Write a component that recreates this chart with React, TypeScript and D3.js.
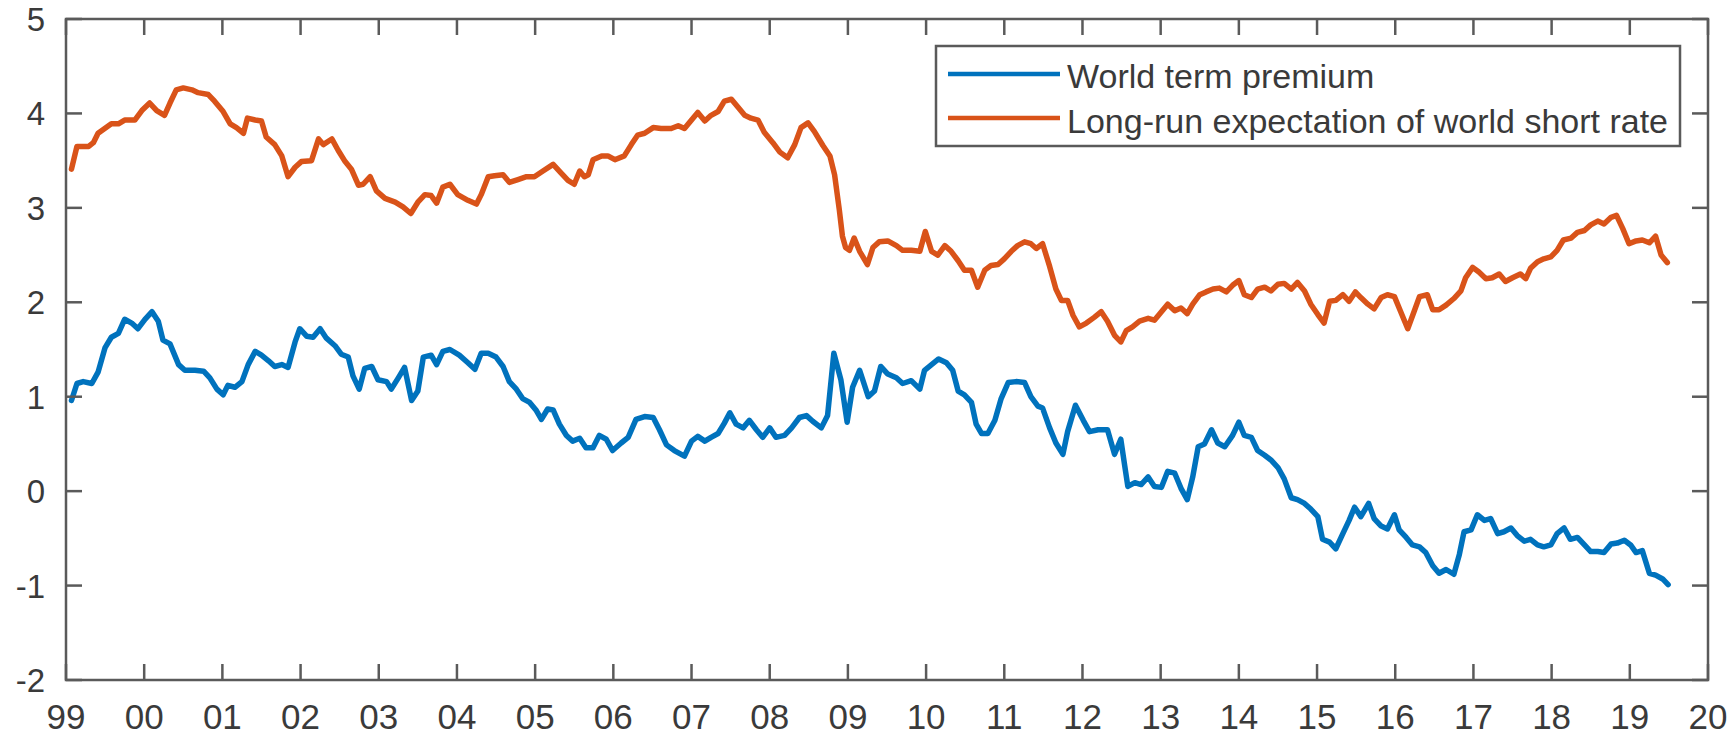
import React from "react";
import * as d3 from "d3";

const width = 1733;
const height = 738;
const margin = { top: 19, right: 25, bottom: 58, left: 66 };

const yearTicks = d3.range(1999, 2021);
const valueTicks = d3.range(-2, 6);
const seriesNames = ["World term premium", "Long-run expectation of world short rate"];
const seriesColors = ["#0072BD", "#D95319"];

// [decimal year, percent]
const termPremium: [number, number][] = [
  [1999.07, 0.96], [1999.14, 1.14], [1999.22, 1.16], [1999.33, 1.14], [1999.41, 1.26], [1999.5, 1.52],
  [1999.58, 1.63], [1999.67, 1.67], [1999.75, 1.82], [1999.84, 1.78], [1999.92, 1.72], [2000.01, 1.82],
  [2000.1, 1.9], [2000.18, 1.8], [2000.24, 1.6], [2000.33, 1.56], [2000.44, 1.34], [2000.52, 1.28],
  [2000.65, 1.28], [2000.76, 1.27], [2000.84, 1.2], [2000.93, 1.08], [2001.01, 1.02], [2001.07, 1.12],
  [2001.16, 1.1], [2001.25, 1.16], [2001.33, 1.34], [2001.42, 1.48], [2001.5, 1.44], [2001.59, 1.38],
  [2001.67, 1.32], [2001.76, 1.34], [2001.84, 1.31], [2001.93, 1.58], [2001.99, 1.72], [2002.08, 1.64],
  [2002.16, 1.63], [2002.25, 1.72], [2002.33, 1.62], [2002.44, 1.54], [2002.52, 1.45], [2002.61, 1.42],
  [2002.67, 1.22], [2002.75, 1.08], [2002.82, 1.3], [2002.91, 1.32], [2002.99, 1.18], [2003.1, 1.16],
  [2003.16, 1.08], [2003.25, 1.2], [2003.33, 1.31], [2003.42, 0.96], [2003.5, 1.06], [2003.57, 1.42],
  [2003.67, 1.44], [2003.74, 1.34], [2003.82, 1.48], [2003.91, 1.5], [2004.03, 1.44], [2004.14, 1.36],
  [2004.23, 1.29], [2004.31, 1.46], [2004.4, 1.46], [2004.5, 1.42], [2004.59, 1.32], [2004.67, 1.16],
  [2004.76, 1.08], [2004.84, 0.98], [2004.93, 0.94], [2005.01, 0.86], [2005.08, 0.76], [2005.16, 0.87],
  [2005.23, 0.86], [2005.31, 0.71], [2005.4, 0.59], [2005.48, 0.53], [2005.57, 0.56], [2005.65, 0.46],
  [2005.74, 0.46], [2005.82, 0.59], [2005.91, 0.55], [2005.99, 0.43], [2006.1, 0.51], [2006.19, 0.57],
  [2006.29, 0.76], [2006.4, 0.79], [2006.51, 0.78], [2006.59, 0.65], [2006.68, 0.49], [2006.78, 0.43],
  [2006.91, 0.37], [2007.0, 0.53], [2007.08, 0.58], [2007.17, 0.53], [2007.25, 0.57], [2007.34, 0.61],
  [2007.42, 0.72], [2007.49, 0.83], [2007.57, 0.71], [2007.66, 0.67], [2007.74, 0.75], [2007.83, 0.65],
  [2007.91, 0.57], [2008.0, 0.67], [2008.08, 0.57], [2008.19, 0.59], [2008.28, 0.67], [2008.38, 0.78],
  [2008.47, 0.8], [2008.55, 0.74], [2008.66, 0.67], [2008.74, 0.8], [2008.82, 1.46], [2008.91, 1.18],
  [2008.99, 0.73], [2009.06, 1.1], [2009.15, 1.28], [2009.26, 1.0], [2009.34, 1.06], [2009.42, 1.32],
  [2009.51, 1.24], [2009.62, 1.2], [2009.7, 1.14], [2009.81, 1.17], [2009.92, 1.08], [2009.98, 1.28],
  [2010.07, 1.34], [2010.16, 1.4], [2010.26, 1.36], [2010.34, 1.28], [2010.41, 1.06], [2010.49, 1.02],
  [2010.58, 0.94], [2010.64, 0.71], [2010.71, 0.61], [2010.79, 0.61], [2010.88, 0.75], [2010.96, 0.98],
  [2011.05, 1.15], [2011.15, 1.16], [2011.26, 1.15], [2011.34, 1.0], [2011.43, 0.9], [2011.49, 0.88],
  [2011.58, 0.67], [2011.66, 0.51], [2011.75, 0.39], [2011.81, 0.63], [2011.91, 0.91], [2012.01, 0.75],
  [2012.09, 0.63], [2012.2, 0.65], [2012.32, 0.65], [2012.41, 0.39], [2012.49, 0.55], [2012.54, 0.27],
  [2012.58, 0.05], [2012.67, 0.09], [2012.75, 0.07], [2012.84, 0.15], [2012.92, 0.05], [2013.01, 0.04],
  [2013.09, 0.21], [2013.18, 0.19], [2013.26, 0.03], [2013.34, -0.09], [2013.41, 0.15], [2013.48, 0.47],
  [2013.56, 0.5], [2013.65, 0.65], [2013.73, 0.51], [2013.82, 0.47], [2013.92, 0.59], [2014.0, 0.73],
  [2014.07, 0.59], [2014.16, 0.57], [2014.24, 0.43], [2014.33, 0.38], [2014.41, 0.33], [2014.5, 0.25],
  [2014.58, 0.13], [2014.67, -0.07], [2014.75, -0.09], [2014.84, -0.13], [2014.92, -0.19], [2015.01, -0.27],
  [2015.07, -0.51], [2015.16, -0.54], [2015.24, -0.61], [2015.33, -0.45], [2015.41, -0.31], [2015.48, -0.17],
  [2015.56, -0.27], [2015.66, -0.13], [2015.73, -0.29], [2015.82, -0.37], [2015.9, -0.4], [2015.99, -0.25],
  [2016.05, -0.41], [2016.14, -0.49], [2016.22, -0.57], [2016.31, -0.59], [2016.39, -0.65], [2016.48, -0.79],
  [2016.56, -0.87], [2016.65, -0.83], [2016.75, -0.88], [2016.82, -0.67], [2016.88, -0.43], [2016.97, -0.41],
  [2017.05, -0.25], [2017.14, -0.31], [2017.22, -0.29], [2017.31, -0.45], [2017.39, -0.43], [2017.48, -0.39],
  [2017.56, -0.47], [2017.65, -0.53], [2017.73, -0.51], [2017.82, -0.57], [2017.9, -0.59], [2017.99, -0.57],
  [2018.07, -0.45], [2018.16, -0.39], [2018.24, -0.51], [2018.33, -0.49], [2018.42, -0.57], [2018.5, -0.64],
  [2018.59, -0.64], [2018.67, -0.65], [2018.76, -0.56], [2018.84, -0.55], [2018.93, -0.52], [2019.01, -0.57],
  [2019.08, -0.65], [2019.16, -0.63], [2019.25, -0.87], [2019.33, -0.89], [2019.42, -0.93], [2019.49, -0.99],
];

const shortRate: [number, number][] = [
  [1999.07, 3.41], [1999.14, 3.65], [1999.29, 3.65], [1999.35, 3.69], [1999.41, 3.79], [1999.58, 3.89],
  [1999.67, 3.89], [1999.75, 3.93], [1999.88, 3.93], [1999.97, 4.03], [2000.07, 4.11], [2000.16, 4.03],
  [2000.26, 3.98], [2000.33, 4.11], [2000.41, 4.25], [2000.5, 4.27], [2000.61, 4.25], [2000.69, 4.22],
  [2000.82, 4.2], [2000.9, 4.13], [2001.01, 4.02], [2001.1, 3.89], [2001.18, 3.85], [2001.27, 3.79],
  [2001.32, 3.95], [2001.42, 3.93], [2001.5, 3.92], [2001.56, 3.75], [2001.67, 3.67], [2001.76, 3.55],
  [2001.84, 3.33], [2001.93, 3.43], [2002.01, 3.49], [2002.14, 3.5], [2002.23, 3.73], [2002.29, 3.67],
  [2002.4, 3.73], [2002.48, 3.61], [2002.57, 3.49], [2002.65, 3.41], [2002.74, 3.24], [2002.8, 3.25],
  [2002.89, 3.33], [2002.97, 3.18], [2003.08, 3.1], [2003.21, 3.06], [2003.31, 3.01], [2003.41, 2.94],
  [2003.5, 3.06], [2003.59, 3.14], [2003.67, 3.13], [2003.74, 3.05], [2003.82, 3.22], [2003.91, 3.25],
  [2004.01, 3.14], [2004.14, 3.08], [2004.25, 3.04], [2004.31, 3.14], [2004.4, 3.33], [2004.48, 3.34],
  [2004.59, 3.35], [2004.67, 3.27], [2004.78, 3.3], [2004.89, 3.33], [2004.99, 3.33], [2005.1, 3.39],
  [2005.23, 3.46], [2005.33, 3.37], [2005.42, 3.29], [2005.5, 3.25], [2005.57, 3.39], [2005.63, 3.33],
  [2005.68, 3.35], [2005.74, 3.51], [2005.85, 3.55], [2005.93, 3.55], [2006.02, 3.51], [2006.14, 3.55],
  [2006.23, 3.67], [2006.31, 3.77], [2006.4, 3.79], [2006.51, 3.85], [2006.61, 3.84], [2006.74, 3.84],
  [2006.83, 3.87], [2006.91, 3.84], [2007.0, 3.93], [2007.08, 4.01], [2007.17, 3.92], [2007.25, 3.98],
  [2007.34, 4.02], [2007.42, 4.13], [2007.51, 4.15], [2007.59, 4.07], [2007.68, 3.98], [2007.76, 3.95],
  [2007.85, 3.93], [2007.93, 3.8], [2008.04, 3.69], [2008.13, 3.59], [2008.23, 3.53], [2008.32, 3.67],
  [2008.4, 3.85], [2008.49, 3.9], [2008.57, 3.81], [2008.68, 3.66], [2008.77, 3.55], [2008.83, 3.35],
  [2008.89, 2.98], [2008.93, 2.7], [2008.97, 2.58], [2009.02, 2.55], [2009.08, 2.68], [2009.15, 2.54],
  [2009.25, 2.4], [2009.32, 2.58], [2009.4, 2.64], [2009.51, 2.65], [2009.62, 2.6], [2009.7, 2.55],
  [2009.81, 2.55], [2009.92, 2.54], [2009.99, 2.75], [2010.07, 2.54], [2010.15, 2.5], [2010.24, 2.6],
  [2010.32, 2.54], [2010.41, 2.44], [2010.49, 2.34], [2010.58, 2.34], [2010.66, 2.16], [2010.75, 2.34],
  [2010.83, 2.39], [2010.92, 2.4], [2011.0, 2.46], [2011.09, 2.54], [2011.17, 2.6], [2011.26, 2.64],
  [2011.34, 2.62], [2011.41, 2.57], [2011.49, 2.62], [2011.58, 2.38], [2011.66, 2.14], [2011.73, 2.02],
  [2011.81, 2.02], [2011.88, 1.86], [2011.96, 1.74], [2012.05, 1.78], [2012.15, 1.84], [2012.24, 1.9],
  [2012.32, 1.8], [2012.41, 1.65], [2012.49, 1.58], [2012.56, 1.7], [2012.64, 1.74], [2012.73, 1.8],
  [2012.84, 1.83], [2012.92, 1.81], [2013.01, 1.9], [2013.09, 1.98], [2013.18, 1.91], [2013.26, 1.94],
  [2013.34, 1.88], [2013.41, 1.98], [2013.5, 2.08], [2013.58, 2.11], [2013.67, 2.14], [2013.75, 2.15],
  [2013.84, 2.11], [2013.92, 2.18], [2014.0, 2.23], [2014.07, 2.08], [2014.16, 2.05], [2014.24, 2.14],
  [2014.33, 2.16], [2014.41, 2.12], [2014.5, 2.19], [2014.58, 2.2], [2014.67, 2.14], [2014.75, 2.21],
  [2014.84, 2.12], [2014.92, 1.98], [2015.01, 1.87], [2015.09, 1.78], [2015.16, 2.01], [2015.24, 2.02],
  [2015.33, 2.08], [2015.41, 2.01], [2015.49, 2.11], [2015.56, 2.05], [2015.65, 1.98], [2015.73, 1.93],
  [2015.82, 2.05], [2015.9, 2.08], [2015.99, 2.06], [2016.07, 1.9], [2016.16, 1.72], [2016.24, 1.9],
  [2016.31, 2.06], [2016.41, 2.08], [2016.48, 1.92], [2016.56, 1.92], [2016.65, 1.97], [2016.75, 2.04],
  [2016.84, 2.12], [2016.9, 2.26], [2016.99, 2.37], [2017.07, 2.32], [2017.16, 2.25], [2017.24, 2.26],
  [2017.33, 2.3], [2017.41, 2.22], [2017.5, 2.26], [2017.6, 2.3], [2017.67, 2.25], [2017.73, 2.36],
  [2017.82, 2.43], [2017.9, 2.46], [2017.99, 2.48], [2018.07, 2.55], [2018.15, 2.66], [2018.25, 2.68],
  [2018.33, 2.74], [2018.42, 2.76], [2018.5, 2.82], [2018.59, 2.86], [2018.67, 2.83], [2018.76, 2.9],
  [2018.83, 2.92], [2018.91, 2.78], [2018.99, 2.62], [2019.08, 2.65], [2019.16, 2.66], [2019.25, 2.63],
  [2019.33, 2.7], [2019.4, 2.5], [2019.48, 2.42],
];

const axisColor = "#5a5a5a";
const textColor = "#3a3a3a";
const font = "'Liberation Sans', Arial, sans-serif";

export default function App() {
  const x = d3.scaleLinear().domain([1999, 2020]).range([margin.left, width - margin.right]);
  const y = d3.scaleLinear().domain([-2, 5]).range([height - margin.bottom, margin.top]);
  const line = d3
    .line<[number, number]>()
    .x(d => x(d[0]))
    .y(d => y(d[1]));

  const [x0, x1] = x.range();
  const [y0, y1] = y.range();
  const tickLen = 16;
  const series = [termPremium, shortRate];

  const legend = { x: 936, y: 46, w: 744, h: 100 };

  return (
    <svg
      width={width}
      height={height}
      style={{ position: "absolute", left: 0, top: 0, background: "#fff" }}
      fontFamily={font}
    >
      {/* data lines */}
      {series.map((s, i) => (
        <path
          key={i}
          d={line(s) || ""}
          fill="none"
          stroke={seriesColors[i]}
          strokeWidth={5.5}
          strokeLinejoin="round"
          strokeLinecap="round"
        />
      ))}

      {/* box */}
      <rect x={x0} y={y1} width={x1 - x0} height={y0 - y1} fill="none" stroke={axisColor} strokeWidth={2.5} />

      {/* x ticks, bottom and top */}
      {yearTicks.map(t => (
        <g key={t}>
          <line x1={x(t)} x2={x(t)} y1={y0} y2={y0 - tickLen} stroke={axisColor} strokeWidth={2.5} />
          <line x1={x(t)} x2={x(t)} y1={y1} y2={y1 + tickLen} stroke={axisColor} strokeWidth={2.5} />
          <text x={x(t)} y={729} textAnchor="middle" fontSize={35} fill={textColor}>
            {String(t % 100).padStart(2, "0")}
          </text>
        </g>
      ))}

      {/* y ticks, left and right */}
      {valueTicks.map(t => (
        <g key={t}>
          <line x1={x0} x2={x0 + tickLen} y1={y(t)} y2={y(t)} stroke={axisColor} strokeWidth={2.5} />
          <line x1={x1} x2={x1 - tickLen} y1={y(t)} y2={y(t)} stroke={axisColor} strokeWidth={2.5} />
          <text x={45} y={y(t) + 12} textAnchor="end" fontSize={33} fill={textColor}>
            {t}
          </text>
        </g>
      ))}

      {/* legend */}
      <rect x={legend.x} y={legend.y} width={legend.w} height={legend.h} fill="#fff" stroke={axisColor} strokeWidth={2.5} />
      {seriesNames.map((name, i) => (
        <g key={name}>
          <line
            x1={948}
            x2={1060}
            y1={legend.y + 28 + i * 44}
            y2={legend.y + 28 + i * 44}
            stroke={seriesColors[i]}
            strokeWidth={4.5}
          />
          <text x={1067} y={legend.y + 42 + i * 45} fontSize={34} fill={textColor}>
            {name}
          </text>
        </g>
      ))}
    </svg>
  );
}
